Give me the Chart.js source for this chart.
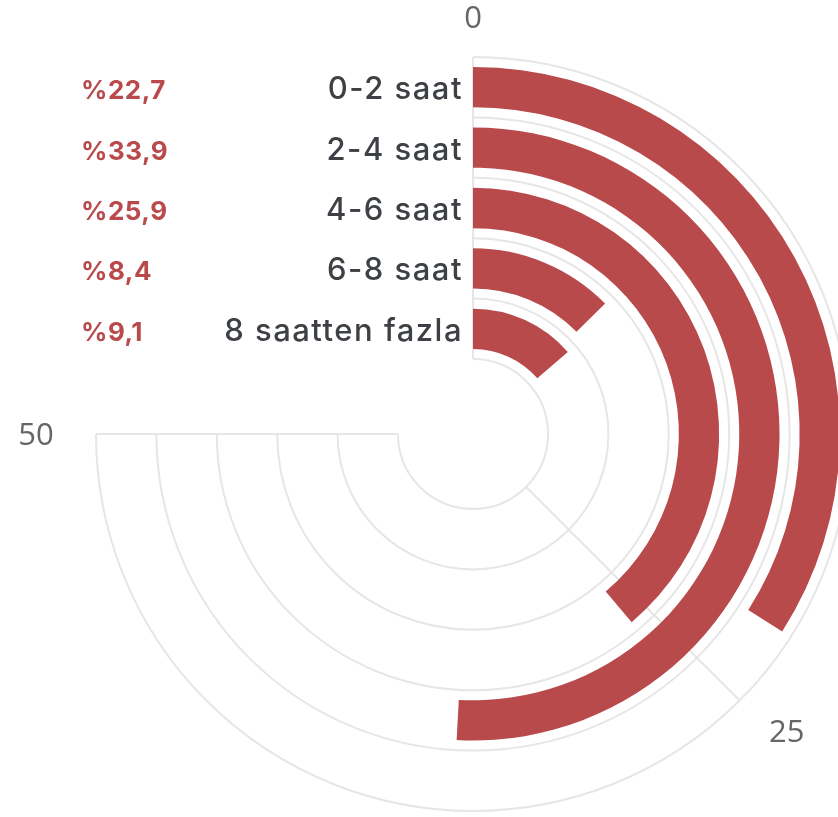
<!DOCTYPE html>
<html>
<head>
<meta charset="utf-8">
<script src="https://cdn.jsdelivr.net/npm/chart.js@4.4.1/dist/chart.umd.min.js"></script>
<style>
  html, body { margin: 0; padding: 0; background: #fff; overflow: hidden; }
  #wrap { position: absolute; left: 0; top: 0; width: 946px; height: 868px; }
</style>
</head>
<body>
<div id="wrap"><canvas id="chartSono"></canvas></div>
<script>
// dados
const categorias = ['0-2 saat', '2-4 saat', '4-6 saat', '6-8 saat', '8 saatten fazla'];
const valores = [22.7, 33.9, 25.9, 8.4, 9.1];
const rotulosPct = ['%22,7', '%33,9', '%25,9', '%8,4', '%9,1'];
const escalaMax = 50;
const ticksAngulares = [0, 25, 50];

const corBarra = '#b94a4c';
const corGrade = '#e6e6e6';

// monta os aneis: espaçador / barra / espaçador ...
const datasets = [];
datasets.push({ label: 'sp0', data: [escalaMax], backgroundColor: ['rgba(0,0,0,0)'], borderWidth: 0, weight: 1 });
valores.forEach((v, i) => {
    datasets.push({
        label: categorias[i],
        data: [v, escalaMax - v],
        backgroundColor: [corBarra, 'rgba(0,0,0,0)'],
        borderWidth: 0,
        weight: 4
    });
    datasets.push({
        label: 'sp' + (i + 1),
        data: [escalaMax],
        backgroundColor: ['rgba(0,0,0,0)'],
        borderWidth: 0,
        weight: i === valores.length - 1 ? 1 : 2
    });
});

function geometria(chart) {
    const primeiro = chart.getDatasetMeta(0).data[0];
    const ultimo = chart.getDatasetMeta(datasets.length - 1).data[0];
    return {
        cx: primeiro.x,
        cy: primeiro.y,
        rOut: primeiro.outerRadius,
        rIn: ultimo.innerRadius
    };
}

const gradePlugin = {
    id: 'gradeRadial',
    beforeDatasetsDraw(chart) {
        const { ctx } = chart;
        const g = geometria(chart);
        const n = valores.length;
        const passo = (g.rOut - g.rIn) / n;
        ctx.save();
        ctx.strokeStyle = corGrade;
        ctx.lineWidth = 2;
        // aneis
        for (let k = 0; k <= n; k++) {
            const r = g.rIn + passo * k;
            ctx.beginPath();
            ctx.arc(g.cx, g.cy, r, -Math.PI / 2, Math.PI);
            ctx.stroke();
        }
        // linhas angulares
        ticksAngulares.forEach(t => {
            const a = -Math.PI / 2 + (t / escalaMax) * 1.5 * Math.PI;
            ctx.beginPath();
            ctx.moveTo(g.cx + Math.cos(a) * g.rIn, g.cy + Math.sin(a) * g.rIn);
            ctx.lineTo(g.cx + Math.cos(a) * g.rOut, g.cy + Math.sin(a) * g.rOut);
            ctx.stroke();
        });
        ctx.restore();
    },
    afterDatasetsDraw(chart) {
        const { ctx } = chart;
        const g = geometria(chart);
        const n = valores.length;
        const passo = (g.rOut - g.rIn) / n;
        ctx.save();
        // rotulos dos ticks
        ctx.fillStyle = '#666666';
        ctx.font = '31px "Open Sans", sans-serif';
        ctx.textAlign = 'center';
        ctx.textBaseline = 'alphabetic';
        const offsets = [40, 54, 60];
        const ajustes = [[0, 0], [9, -8], [0, 0]];
        ticksAngulares.forEach((t, i) => {
            const a = -Math.PI / 2 + (t / escalaMax) * 1.5 * Math.PI;
            const r = g.rOut + offsets[i];
            ctx.fillText(String(t),
                g.cx + Math.cos(a) * r + ajustes[i][0],
                g.cy + Math.sin(a) * r + 11 + ajustes[i][1]);
        });
        // categorias e percentuais
        categorias.forEach((c, i) => {
            const r = g.rOut - passo * (i + 0.5);
            const y = g.cy - r;
            ctx.textAlign = 'right';
            ctx.fillStyle = '#3d4044';
            ctx.font = '500 31px Inter, "Noto Sans", sans-serif';
            ctx.letterSpacing = '1.5px';
            ctx.fillText(c, g.cx - 10, y + 12);
            ctx.textAlign = 'left';
            ctx.fillStyle = corBarra;
            ctx.font = 'bold 26px Inter, "Noto Sans", sans-serif';
            ctx.letterSpacing = '0.5px';
            ctx.fillText(rotulosPct[i], 81, y + 12);
        });
        ctx.restore();
    }
};

new Chart(document.getElementById('chartSono'), {
    type: 'doughnut',
    data: {
        labels: ['valor', 'resto'],
        datasets: datasets
    },
    options: {
        responsive: true,
        maintainAspectRatio: false,
        animation: false,
        rotation: 0,
        circumference: 270,
        cutout: 75,
        layout: { padding: { left: 96, right: 96, top: 57, bottom: 57 } },
        plugins: {
            legend: { display: false },
            tooltip: { enabled: false }
        }
    },
    plugins: [gradePlugin]
});
</script>
</body>
</html>
